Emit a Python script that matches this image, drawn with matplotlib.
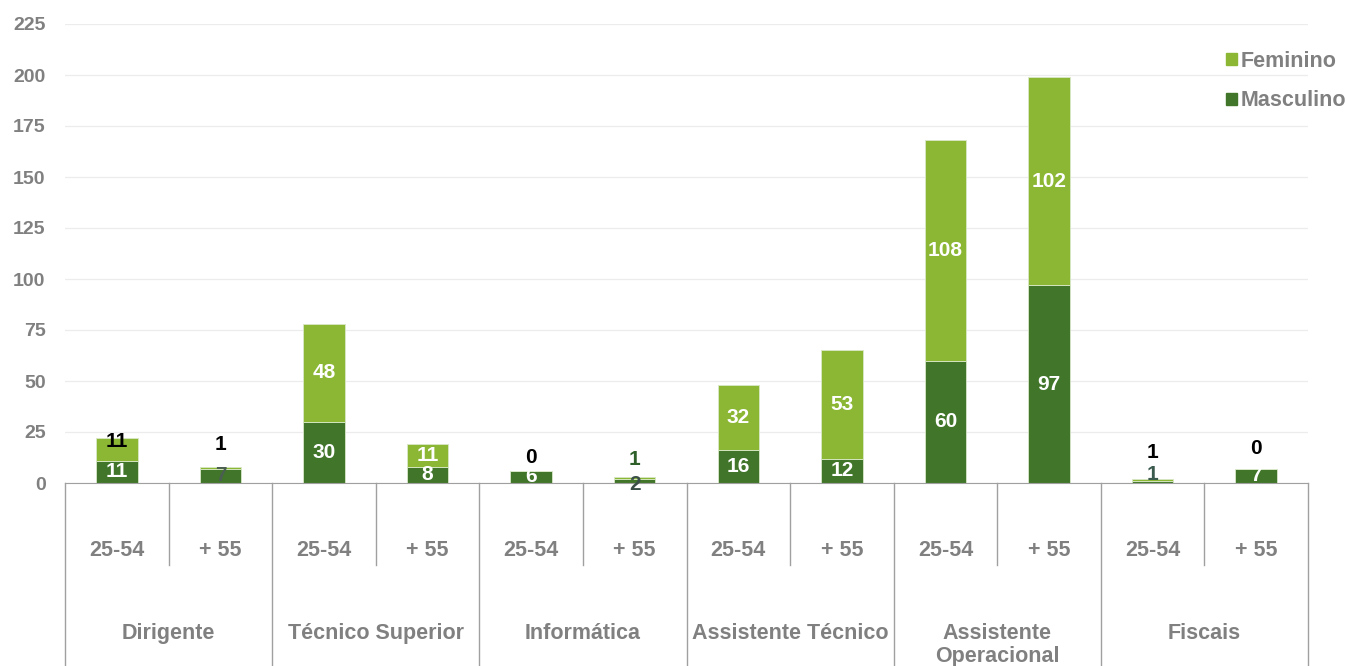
import matplotlib.pyplot as plt
from matplotlib.patches import Patch
import numpy as np

plt.rcParams['font.family'] = ['Liberation Sans', 'DejaVu Sans']
plt.rcParams['font.weight'] = 'bold'

groups = ['Dirigente', 'Técnico Superior', 'Informática', 'Assistente Técnico',
          'Assistente\nOperacional', 'Fiscais']
ages = ['25-54', '+ 55']
masculino = [11, 7, 30, 8, 6, 2, 16, 12, 60, 97, 1, 7]
feminino = [11, 1, 48, 11, 0, 1, 32, 53, 108, 102, 1, 0]

# label tweaks copied from the original (None = centred in the segment)
f_label_y = [20.5, 19, None, None, 12.3, 11.3, None, None, None, None, 15, 17]
f_label_color = ['black', 'black', 'white', 'white', 'black', '#2f5f28',
                 'white', 'white', 'white', 'white', 'black', 'black']
m_label_y = [None, None, None, None, None, -0.5, None, None, None, None, 4, None]
m_label_color = ['white', '#4a5e52', 'white', 'white', 'white', '#3a4f48',
                 'white', 'white', 'white', 'white', '#3a5a4e', 'white']

dark = '#41762a'
light = '#8bb734'
grey = '#808080'
fs = 15

W, H = 1346, 666
fig = plt.figure(figsize=(W / 100, H / 100), dpi=100)
ax = fig.add_axes([65 / W, 1 - 483 / H, (1308 - 65) / W, (483 - 24) / H])

x = np.arange(len(masculino))
ax.bar(x, masculino, width=0.4, color=dark, edgecolor='#d8e8c8', linewidth=0.6, zorder=2)
ax.bar(x, feminino, width=0.4, bottom=masculino, color=light, edgecolor='#d8e8c8',
       linewidth=0.6, zorder=2)

for i in x:
    m, f = masculino[i], feminino[i]
    my = m / 2 if m_label_y[i] is None else m_label_y[i]
    fy = m + f / 2 if f_label_y[i] is None else f_label_y[i]
    ax.text(i, my, str(m), ha='center', va='center', fontsize=fs,
            color=m_label_color[i], zorder=3)
    ax.text(i, fy, str(f), ha='center', va='center', fontsize=fs,
            color=f_label_color[i], zorder=3)

ax.set_xlim(-0.5, len(x) - 0.5)
ax.set_ylim(0, 225)
ax.set_yticks(np.arange(0, 226, 25))
ax.tick_params(axis='y', length=0, pad=14, labelsize=14, labelcolor=grey)
ax.set_xticks([])
ax.grid(axis='y', color='#ececec', linewidth=0.9, zorder=0)
for s in ['left', 'right', 'top']:
    ax.spines[s].set_visible(False)
ax.spines['bottom'].set_color('#a0a0a0')

# category axis below the plot
ah = 483 - 24
sub_bottom = -(565 - 483) / ah
grp_bottom = -(666 - 483) / ah
tr = ax.get_xaxis_transform()
for b in np.arange(-0.5, len(x), 1.0):
    is_group = int(round(b + 0.5)) % 2 == 0
    ax.plot([b, b], [0, grp_bottom if is_group else sub_bottom], transform=tr,
            color='#a0a0a0', linewidth=1, clip_on=False)
for i in x:
    ax.text(i, -(551 - 483) / ah, ages[i % 2], transform=tr, ha='center',
            va='center', fontsize=15.5, color=grey)
for g, name in enumerate(groups):
    ax.text(2 * g + 0.5, -(623 - 483) / ah, name, transform=tr, ha='center',
            va='top', fontsize=15.5, color=grey, linespacing=1.15)

handles = [Patch(color=light, label='Feminino'), Patch(color=dark, label='Masculino')]
fig.legend(handles=handles, loc='upper left', bbox_to_anchor=(1226 / W, 1 - 51 / H),
           frameon=False, fontsize=15.5, labelcolor=grey, handlelength=0.5,
           handleheight=0.5, handletextpad=0.2, labelspacing=0.85, borderpad=0,
           borderaxespad=0)

fig.savefig('out.png', dpi=100)
